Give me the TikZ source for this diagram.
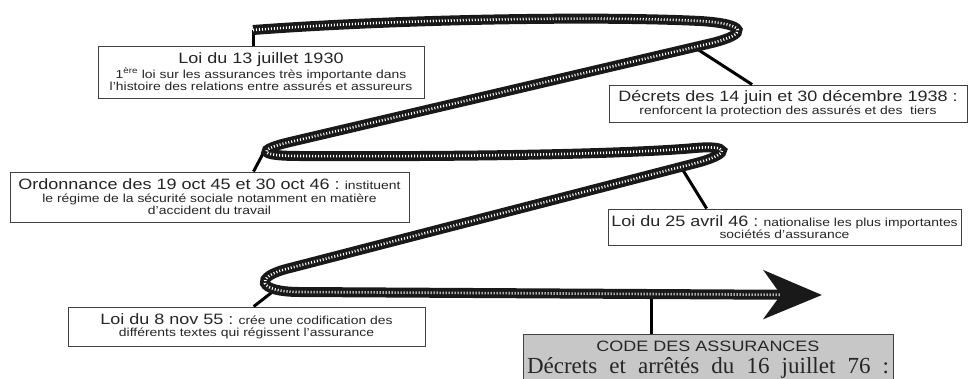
\documentclass[tikz,border=0pt]{standalone}
\usepackage{fontspec}
\setmainfont[FakeStretch=1.2]{Liberation Sans}
\newfontfamily\seriffam{Liberation Serif}
\usepackage{tikz}
\usetikzlibrary{arrows.meta,calc}
\newcommand{\titre}{\fontsize{15}{17}\selectfont}
\newcommand{\petit}{\fontsize{11.6}{12.5}\selectfont}

\begin{document}
\begin{tikzpicture}[x=1pt,y=-1pt,>=Stealth,
  boite/.style={draw=black!75,line width=0.9pt,fill=white,align=center,inner sep=2pt,font=\petit,text=black!85},
  lien/.style={line width=3pt},
  corde/.style={line width=10pt,draw=black!90,postaction={draw=white,line width=2.6pt,dash pattern=on 1pt off 2pt,-,shorten >=42pt}}]
\useasboundingbox (0,0) rectangle (968,378);
\clip (0,0) rectangle (968,378);
\node[boite,minimum width=326pt,minimum height=52pt] (loi30) at (261,72) {{\titre Loi du 13 juillet 1930}\\ 1\textsuperscript{ère} loi sur les assurances très importante dans\\ l'histoire des relations entre assurés et assureurs};
\node[boite,minimum width=358pt,minimum height=37pt] (dec38) at (788,103.5) {{\titre Décrets des 14 juin et 30 décembre 1938 :}\\ renforcent la protection des assurés et des\ \ tiers};
\node[boite,minimum width=399pt,minimum height=50pt] (ord45) at (209.5,197) {{\titre Ordonnance des 19 oct 45 et 30 oct 46 :} instituent\\ le régime de la sécurité sociale notamment en matière\\ d'accident du travail};
\node[boite,minimum width=353pt,minimum height=36pt] (loi46) at (784.5,227) {{\titre Loi du 25 avril 46 :} nationalise les plus importantes\\ sociétés d'assurance};
\node[boite,minimum width=357pt,minimum height=39pt] (loi55) at (246.5,326.5) {{\titre Loi du 8 nov 55 :} crée une codification des\\ différents textes qui régissent l'assurance};
\node[boite,fill=black!22,minimum width=370pt,minimum height=50pt,anchor=north] (code76) at (708,334) {{\titre CODE DES ASSURANCES}\\[5pt] {\seriffam\fontsize{23}{26}\selectfont\makebox[362pt][s]{Décrets et arrêtés du 16 juillet 76 :}}};
\coordinate (k1) at (253,30); \coordinate (k2) at (694,47); \coordinate (k3) at (266,148);
\coordinate (k4) at (681,167); \coordinate (k5) at (280,286); \coordinate (k6) at (651,293);
\draw[lien] (loi30.north -| k1) -- (k1); \draw[lien] ($(dec38.north west)!.4!(dec38.north east)$) -- (k2);
\draw[lien] ($(ord45.north west)!.61!(ord45.north east)$) -- (k3); \draw[lien] ($(loi46.north west)!.28!(loi46.north east)$) -- (k4);
\draw[lien] ($(loi55.north west)!.52!(loi55.north east)$) -- (k5); \draw[lien] (code76.north -| k6) -- (k6);
\draw[corde,-{Stealth[length=58pt,width=48pt,inset=17pt]}] (k1) .. controls (400,19) and (600,16) .. (700,21)
  .. controls (748,24) and (748,34) .. (712,43) -- (290,142)
  .. controls (256,150) and (258,156) .. (300,156)
  .. controls (500,157) and (640,153) .. (695,148)
  .. controls (729,145) and (731,153) .. (700,162) -- (290,268)
  .. controls (252,277) and (258,292) .. (300,292) -- (822,295);
\end{tikzpicture}
\end{document}
